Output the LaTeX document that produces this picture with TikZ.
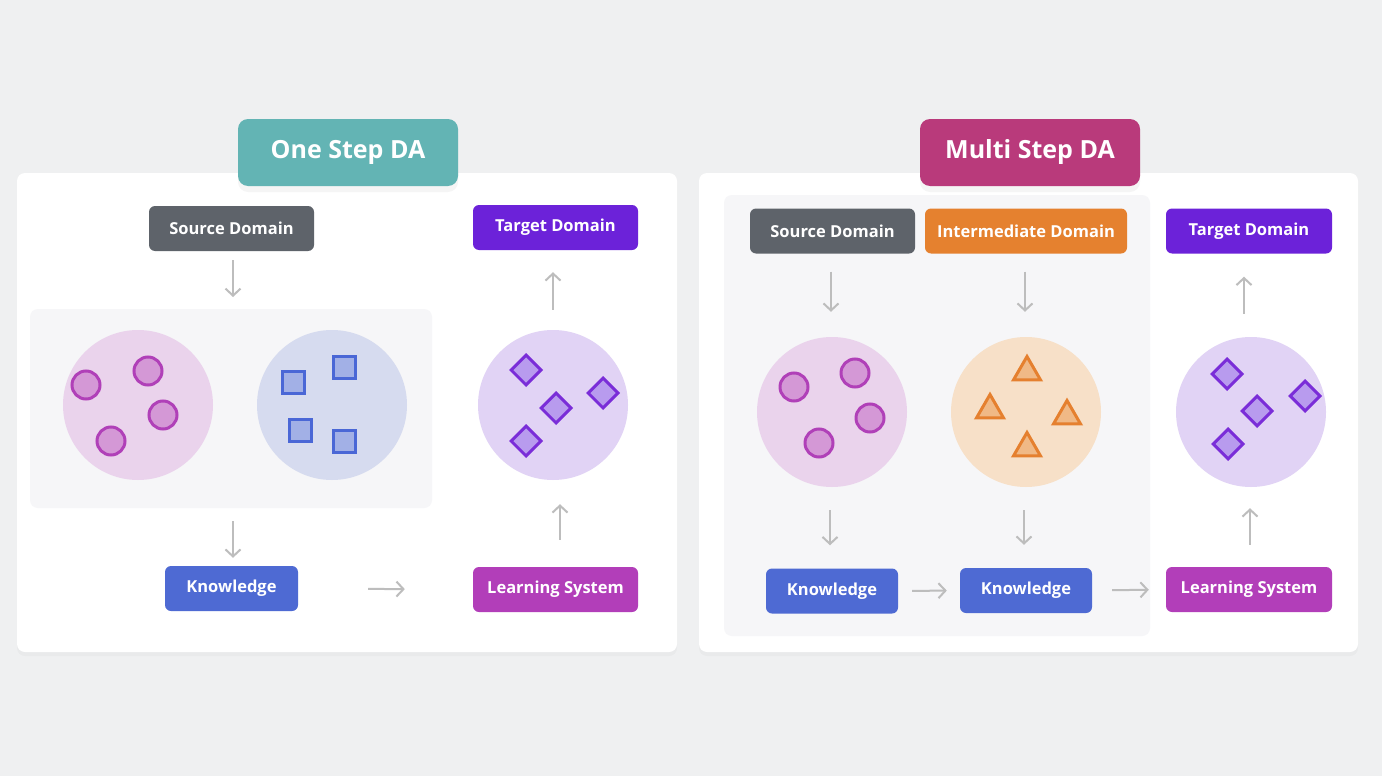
\documentclass[tikz,border=0pt]{standalone}
\usepackage{fontspec}
\setmainfont{Open Sans}
\usetikzlibrary{arrows.meta,positioning,shapes.geometric,shadows}
\definecolor{pageBg}{HTML}{EFF0F1}
\definecolor{innerBg}{HTML}{F6F6F8}
\definecolor{srcGray}{HTML}{5E636A}
\definecolor{tgtPurple}{HTML}{6C22D9}
\definecolor{knowBlue}{HTML}{4E6AD3}
\definecolor{lsMagenta}{HTML}{B23EB9}
\definecolor{midOrange}{HTML}{E5812F}
\definecolor{tabTeal}{HTML}{63B4B4}
\definecolor{tabRose}{HTML}{B93A7B}
\definecolor{arrowGray}{HTML}{BDBDBD}
\definecolor{pinkFill}{HTML}{EAD3EC}
\definecolor{blueFill}{HTML}{D6DBEF}
\definecolor{violetFill}{HTML}{E1D3F5}
\definecolor{orangeFill}{HTML}{F7E0C8}
\definecolor{dotLine}{HTML}{B040B8}
\definecolor{dotFill}{HTML}{D498D6}
\definecolor{sqLine}{HTML}{4A67D6}
\definecolor{sqFill}{HTML}{A2B0E6}
\definecolor{diaLine}{HTML}{7A2DD8}
\definecolor{diaFill}{HTML}{B89BEE}
\definecolor{triLine}{HTML}{E5802F}
\definecolor{triFill}{HTML}{F0B986}

\begin{document}
\begin{tikzpicture}[x=1pt,y=-1pt,
  panel/.style={fill=white,rounded corners=8pt,
    drop shadow={opacity=0.05,shadow xshift=0pt,shadow yshift=-4pt}},
  innerbox/.style={fill=innerBg,rounded corners=8pt},
  tab/.style={rounded corners=10pt,text=white,minimum width=220,minimum height=67,
    font=\fontsize{25}{30}\selectfont\bfseries,
    drop shadow={opacity=0.08,shadow xshift=0pt,shadow yshift=-6pt}},
  tagbox/.style={rounded corners=6pt,text=white,minimum height=45,inner sep=0pt,
    font=\fontsize{16.5}{20}\selectfont\bfseries},
  cloud/.style={circle,minimum size=150,inner sep=0pt},
  dot/.style={circle,minimum size=28,inner sep=0pt,line width=3pt,
    draw=dotLine,fill=dotFill},
  sq/.style={rectangle,minimum size=22,inner sep=0pt,line width=3pt,
    draw=sqLine,fill=sqFill},
  dia/.style={diamond,minimum size=31,inner sep=0pt,line width=3pt,
    draw=diaLine,fill=diaFill},
  tri/.style={regular polygon,regular polygon sides=3,minimum size=31,inner sep=0pt,
    line width=3pt,line join=miter,draw=triLine,fill=triFill},
  flow/.style={-{Straight Barb[length=7pt,width=15pt]},line width=2pt,arrowGray}]

  % page
  \useasboundingbox[fill=pageBg] (0,0) rectangle (1382,776);

  % ---- One Step DA ----
  \fill[panel] (17,173) rectangle (677,652);
  \fill[innerbox] (30,309) rectangle (432,508);
  \node[tab,fill=tabTeal] (tabA) at (348,152.5) {One Step DA};

  \node[tagbox,fill=srcGray,minimum width=165] (srcA) at (231.5,228.5) {Source Domain};
  \node[tagbox,fill=tgtPurple,minimum width=165] (tgtA) at (555.5,227.5) {Target Domain};
  \node[tagbox,fill=knowBlue,minimum width=133] (knowA) at (231.5,588.5) {Knowledge};
  \node[tagbox,fill=lsMagenta,minimum width=165] (lsA) at (555.5,589.5) {Learning System};

  \node[cloud,fill=pinkFill] (pinkA) at (138,405) {};
  \node[cloud,fill=blueFill] (blueA) at (332,405) {};
  \node[cloud,fill=violetFill] (violetA) at (553,405) {};

  \foreach \px/\py in {86/385,148/371,163/415,111/441}
    \node[dot] at (\px,\py) {};
  \foreach \px/\py in {293/382,344/367,300/430,344/441}
    \node[sq] at (\px,\py) {};
  \foreach \px/\py in {526/370,556/408,603/393,526/441}
    \node[dia] at (\px,\py) {};

  \coordinate (boxAtop) at (233,309);
  \coordinate (boxAbot) at (233,508);
  \draw[flow,shorten <=9pt,shorten >=12pt] (srcA.south -| boxAtop) -- (boxAtop);
  \draw[flow,shorten <=13pt,shorten >=8pt] (boxAbot) -- (knowA.north -| boxAbot);
  \draw[flow,shorten <=70pt,shorten >=68pt] (knowA.east) -- (lsA.west);
  \draw[flow,shorten <=27pt,shorten >=24pt] (lsA.north -| 560,0) -- (violetA.south -| 560,0);
  \draw[flow,shorten <=20pt,shorten >=22pt] (violetA.north) -- (tgtA.south -| violetA.north);

  % ---- Multi Step DA ----
  \fill[panel] (699,173) rectangle (1358,652);
  \fill[innerbox] (724,195) rectangle (1150,636);
  \node[tab,fill=tabRose] (tabB) at (1030,152.5) {Multi Step DA};

  \node[tagbox,fill=srcGray,minimum width=165] (srcB) at (832.5,231) {Source Domain};
  \node[tagbox,fill=midOrange,minimum width=202] (midB) at (1026,231) {Intermediate Domain};
  \node[tagbox,fill=tgtPurple,minimum width=166] (tgtB) at (1249,231) {Target Domain};
  \node[tagbox,fill=knowBlue,minimum width=132] (knowB) at (832,591) {Knowledge};
  \node[tagbox,fill=knowBlue,minimum width=132] (knowC) at (1026,590.5) {Knowledge};
  \node[tagbox,fill=lsMagenta,minimum width=166] (lsB) at (1249,589.5) {Learning System};

  \node[cloud,fill=pinkFill] (pinkB) at (832,412) {};
  \node[cloud,fill=orangeFill] (orangeB) at (1026,412) {};
  \node[cloud,fill=violetFill] (violetB) at (1251,412) {};

  \foreach \px/\py in {794/387,855/373,870/418,819/443}
    \node[dot] at (\px,\py) {};
  \foreach \px/\py in {1027/372,990/410,1067/416,1027/448}
    \node[tri] at (\px,\py) {};
  \foreach \px/\py in {1227/374,1257/411,1305/396,1228/444}
    \node[dia] at (\px,\py) {};

  \draw[flow,shorten <=18pt,shorten >=25pt] (srcB.south -| 831,0) -- (pinkB.north -| 831,0);
  \draw[flow,shorten <=18pt,shorten >=25pt] (midB.south -| 1025,0) -- (orangeB.north -| 1025,0);
  \draw[flow,shorten <=23pt,shorten >=23pt] (pinkB.south -| 830,0) -- (knowB.north -| 830,0);
  \draw[flow,shorten <=23pt,shorten >=23pt] (orangeB.south -| 1024,0) -- (knowC.north -| 1024,0);
  \draw[flow,shorten <=14pt,shorten >=13pt] (knowB.east) -- (knowC.west);
  \draw[flow,shorten <=20pt,shorten >=17pt] (knowC.east) -- (lsB.west);
  \draw[flow,shorten <=22pt,shorten >=21pt] (lsB.north -| 1250,0) -- (violetB.south -| 1250,0);
  \draw[flow,shorten <=23pt,shorten >=23pt] (violetB.north -| 1244,0) -- (tgtB.south -| 1244,0);
\end{tikzpicture}
\end{document}
